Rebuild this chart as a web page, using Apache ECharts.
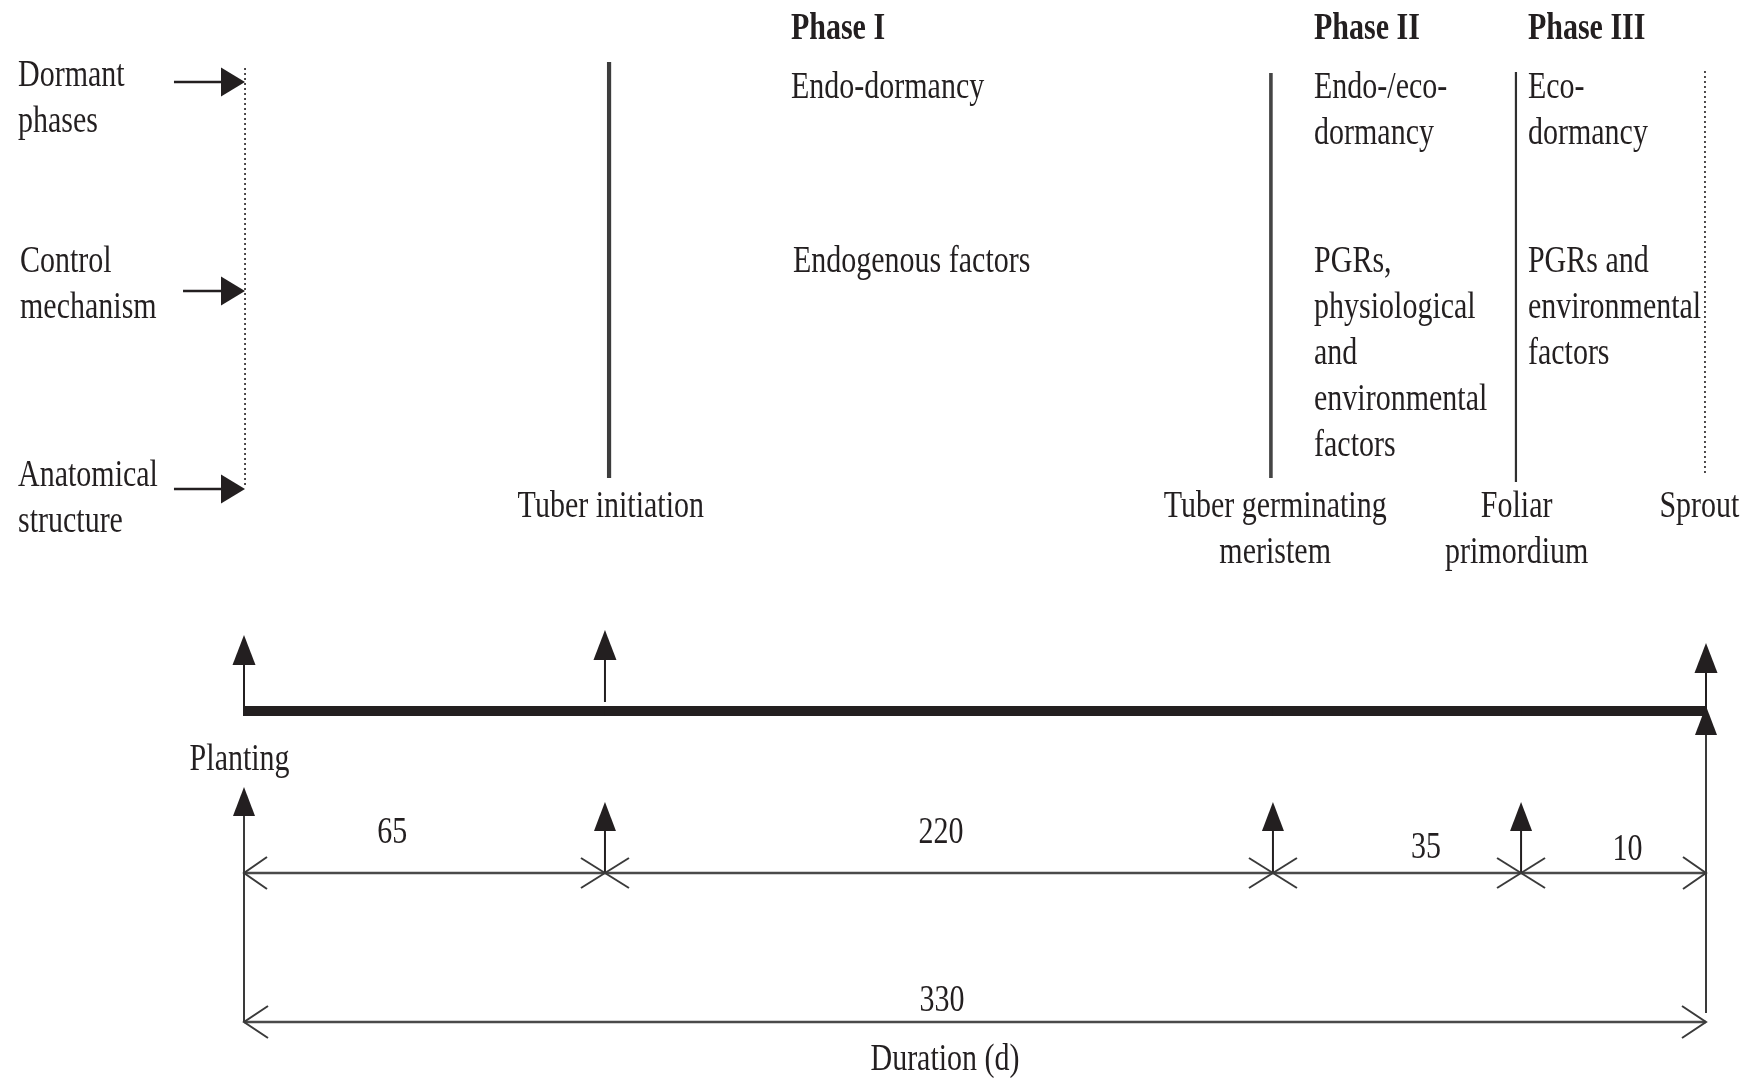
<!DOCTYPE html>
<html>
<head>
<meta charset="utf-8">
<script src="https://cdn.jsdelivr.net/npm/echarts@6/dist/echarts.min.js"></script>
<style>
html,body{margin:0;padding:0;background:#ffffff;}
#chart{width:1756px;height:1078px;}
</style>
</head>
<body>
<div id="chart"></div>
<script>
// ---------------- DATA ----------------
const stageNames = ['Planting', 'Tuber initiation', 'Tuber germinating\nmeristem', 'Foliar\nprimordium', 'Sprout'];
const intervalDays = [65, 220, 35, 10];
const totalDays = 330;
const phaseNames = ['Phase I', 'Phase II', 'Phase III'];
const dormancyTypes = ['Endo-dormancy', 'Endo-/eco-\ndormancy', 'Eco-\ndormancy'];
const controlFactors = ['Endogenous factors', 'PGRs,\nphysiological\nand\nenvironmental\nfactors', 'PGRs and\nenvironmental\nfactors'];
const rowLabels = ['Dormant\nphases', 'Control\nmechanism', 'Anatomical\nstructure'];
const durationTitle = 'Duration (d)';

// ---------------- LAYOUT (schematic, not data) ----------------
const INK = '#231f20';
const GREY = '#4a4a4a';
const FONT = '"Liberation Serif","Times New Roman",Times,serif';
const FS = 30;          // font size
const SY = 1.25;        // vertical stretch (condensed Times look)
const LH = 46;          // line spacing
const TDY = 2.5;        // baseline nudge for text
const L = {
  stageX: [0, 0.2469, 0.7038, 0.8735, 1],
  sepX: [0.0007, 0.2497, 0.7024, 0.8700, 0.9993],
  sepTop: [68, 62, 73, 72, 71],
  sepBottom: [485, 478, 478, 482, 473],
  sepStyle: [
    {stroke: INK, lineWidth: 1.6, lineDash: [2, 3]},
    {stroke: '#3d3d3d', lineWidth: 4.2},
    {stroke: '#454545', lineWidth: 3.6},
    {stroke: '#2f2f2f', lineWidth: 2.2},
    {stroke: INK, lineWidth: 1.6, lineDash: [2, 3]}
  ],
  phaseX: [0.3741, 0.7319, 0.8782],
  controlDx: [0.0014, 0, 0],
  titleY: 27, dormY: 86, controlY: 260,
  anatY: 505, anatDx: [0, 0.004, 0.0015, -0.003, -0.0045],
  plantingY: 758, plantingDx: -0.003,
  rowLabelX: [-0.1546, -0.1532, -0.1546],
  rowLabelY: [74, 260, 474],
  rowArrowY: [82, 291, 489],
  rowArrowX0: [-0.0479, -0.0417, -0.0479],
  lineY: 711,
  topArrow: [{base: 711, tip: 635}, {base: 702, tip: 630}, null, null, {base: 711, tip: 643}],
  bottomArrow: [{base: 1022, tip: 787}, {base: 873, tip: 802}, {base: 873, tip: 802}, {base: 873, tip: 802}, {base: 1013, tip: 706}],
  dimY: 873, totalY: 1022,
  intervalLabelDx: [-0.022, 0.0014, 0.0198, 0.0096],
  intervalLabelY: [831, 831, 846, 848],
  totalLabelDx: -0.0226, totalLabelY: 999,
  titleDx: -0.0205, titleY2: 1058
};

// ---------------- helpers ----------------
function line(a, b, style) {
  return {type: 'line', shape: {x1: a[0], y1: a[1], x2: b[0], y2: b[1]},
    style: Object.assign({stroke: INK, lineWidth: 2, lineCap: 'butt'}, style)};
}
function triUp(tip, len, half) {
  return {type: 'polygon', shape: {points: [[tip[0], tip[1]], [tip[0] - half, tip[1] + len], [tip[0] + half, tip[1] + len]]},
    style: {fill: INK}};
}
function triRight(tip, len, half) {
  return {type: 'polygon', shape: {points: [[tip[0], tip[1]], [tip[0] - len, tip[1] - half], [tip[0] - len, tip[1] + half]]},
    style: {fill: INK}};
}
function chevron(tip, dir, len, half) {
  return {type: 'polyline', shape: {points: [[tip[0] - dir * len, tip[1] - half], [tip[0], tip[1]], [tip[0] - dir * len, tip[1] + half]]},
    style: {stroke: '#3a3a3a', lineWidth: 2, fill: null}};
}
function xMark(c, hw, hh) {
  return [
    line([c[0] - hw, c[1] - hh], [c[0] + hw, c[1] + hh], {stroke: '#3a3a3a', lineWidth: 2}),
    line([c[0] - hw, c[1] + hh], [c[0] + hw, c[1] - hh], {stroke: '#3a3a3a', lineWidth: 2})
  ];
}
function textLines(api, str, x, y, opt) {
  opt = opt || {};
  return String(str).split('\n').map(function (s, i) {
    const p = api.coord([x, y + TDY + i * LH]);
    return {type: 'text', x: p[0], y: p[1], scaleY: SY,
      style: {x: 0, y: 0, text: s, fill: INK, fontSize: FS, fontFamily: FONT,
        fontWeight: opt.bold ? 'bold' : 'normal', align: opt.align || 'left', verticalAlign: 'middle'}};
  });
}

// ---------------- series ----------------
const separatorSeries = {
  type: 'custom', name: 'stage separators', clip: false, silent: true,
  data: stageNames.map(function (n, i) { return {name: n, value: [i]}; }),
  renderItem: function (params, api) {
    const i = params.dataIndex;
    const a = api.coord([L.sepX[i], L.sepTop[i]]);
    const b = api.coord([L.sepX[i], L.sepBottom[i]]);
    return line(a, b, L.sepStyle[i]);
  }
};

const anatomySeries = {
  type: 'custom', name: 'anatomical structure', clip: false, silent: true,
  data: stageNames.map(function (n, i) { return {name: n, value: [i]}; }),
  renderItem: function (params, api) {
    const i = params.dataIndex;
    if (i === 0) {
      return {type: 'group', children: textLines(api, stageNames[i], L.stageX[i] + L.plantingDx, L.plantingY, {align: 'center'})};
    }
    return {type: 'group', children: textLines(api, stageNames[i], L.stageX[i] + L.anatDx[i], L.anatY, {align: 'center'})};
  }
};

const phaseSeries = {
  type: 'custom', name: 'phases', clip: false, silent: true,
  data: phaseNames.map(function (n, i) { return {name: n, value: [i]}; }),
  renderItem: function (params, api) {
    const i = params.dataIndex;
    const x = L.phaseX[i];
    const kids = []
      .concat(textLines(api, phaseNames[i], x, L.titleY, {bold: true}))
      .concat(textLines(api, dormancyTypes[i], x, L.dormY))
      .concat(textLines(api, controlFactors[i], x + L.controlDx[i], L.controlY));
    return {type: 'group', children: kids};
  }
};

const rowSeries = {
  type: 'custom', name: 'row labels', clip: false, silent: true,
  data: rowLabels.map(function (n, i) { return {name: n, value: [i]}; }),
  renderItem: function (params, api) {
    const i = params.dataIndex;
    const tip = api.coord([L.sepX[0], L.rowArrowY[i]]);
    const start = api.coord([L.rowArrowX0[i], L.rowArrowY[i]]);
    const kids = textLines(api, rowLabels[i], L.rowLabelX[i], L.rowLabelY[i]);
    kids.push(line(start, [tip[0] - 22, tip[1]], {stroke: INK, lineWidth: 2.6}));
    kids.push(triRight(tip, 24, 14.5));
    return {type: 'group', children: kids};
  }
};

const timelineSeries = {
  type: 'custom', name: 'timeline', clip: false, silent: true,
  data: stageNames.map(function (n, i) { return {name: n, value: [i]}; }),
  renderItem: function (params, api) {
    const i = params.dataIndex;
    const kids = [];
    if (i < stageNames.length - 1) {
      const a = api.coord([L.stageX[i], L.lineY]);
      const b = api.coord([L.stageX[i + 1], L.lineY]);
      kids.push(line([a[0] - (i === 0 ? 1 : 0), a[1]], [b[0] + 1, b[1]], {stroke: INK, lineWidth: 10}));
    }
    const ta = L.topArrow[i];
    if (ta) {
      const base = api.coord([L.stageX[i], ta.base]);
      const tip = api.coord([L.stageX[i], ta.tip]);
      kids.push(line(base, [tip[0], tip[1] + 26], {stroke: INK, lineWidth: 2}));
      kids.push(triUp(tip, 30, 11.5));
    }
    const ba = L.bottomArrow[i];
    if (ba) {
      const base = api.coord([L.stageX[i], ba.base]);
      const tip = api.coord([L.stageX[i], ba.tip]);
      const grey = (i === 0 || i === stageNames.length - 1);
      kids.push(line(base, [tip[0], tip[1] + 26], {stroke: grey ? '#3a3a3a' : INK, lineWidth: 2}));
      kids.push(triUp(tip, 29, 11));
    }
    return {type: 'group', children: kids};
  }
};

const intervalSeries = {
  type: 'custom', name: 'intervals', clip: false, silent: true,
  data: intervalDays.map(function (d, i) { return {name: String(d), value: [d]}; }),
  renderItem: function (params, api) {
    const i = params.dataIndex;
    const a = api.coord([L.stageX[i], L.dimY]);
    const b = api.coord([L.stageX[i + 1], L.dimY]);
    let kids = [line(a, b, {stroke: GREY, lineWidth: 2.6})];
    if (i === 0) kids.push(chevron(a, -1, 23, 16));
    else kids = kids.concat(xMark(a, 24, 15));
    if (i === intervalDays.length - 1) kids.push(chevron(b, 1, 23, 16));
    const mid = (L.stageX[i] + L.stageX[i + 1]) / 2 + L.intervalLabelDx[i];
    kids = kids.concat(textLines(api, String(api.value(0)), mid, L.intervalLabelY[i], {align: 'center'}));
    return {type: 'group', children: kids};
  }
};

const totalSeries = {
  type: 'custom', name: 'total', clip: false, silent: true,
  data: [{name: String(totalDays), value: [totalDays]}],
  renderItem: function (params, api) {
    const first = 0, last = stageNames.length - 1;
    const a = api.coord([L.stageX[first], L.totalY]);
    const b = api.coord([L.stageX[last], L.totalY]);
    let kids = [line(a, b, {stroke: GREY, lineWidth: 2.6}), chevron(a, -1, 24, 16), chevron(b, 1, 24, 16)];
    const mid = (L.stageX[first] + L.stageX[last]) / 2;
    kids = kids.concat(textLines(api, String(api.value(0)), mid + L.totalLabelDx, L.totalLabelY, {align: 'center'}));
    kids = kids.concat(textLines(api, durationTitle, mid + L.titleDx, L.titleY2, {align: 'center'}));
    return {type: 'group', children: kids};
  }
};

const chart = echarts.init(document.getElementById('chart'), null, {renderer: 'canvas'});
chart.setOption({
  backgroundColor: '#ffffff',
  animation: false,
  grid: {left: 244, right: 50, top: 0, bottom: 0, containLabel: false},
  xAxis: {type: 'value', min: 0, max: 1, show: false},
  yAxis: {type: 'value', min: 0, max: 1078, inverse: true, show: false},
  series: [separatorSeries, anatomySeries, phaseSeries, rowSeries, timelineSeries, intervalSeries, totalSeries]
});
</script>
</body>
</html>
